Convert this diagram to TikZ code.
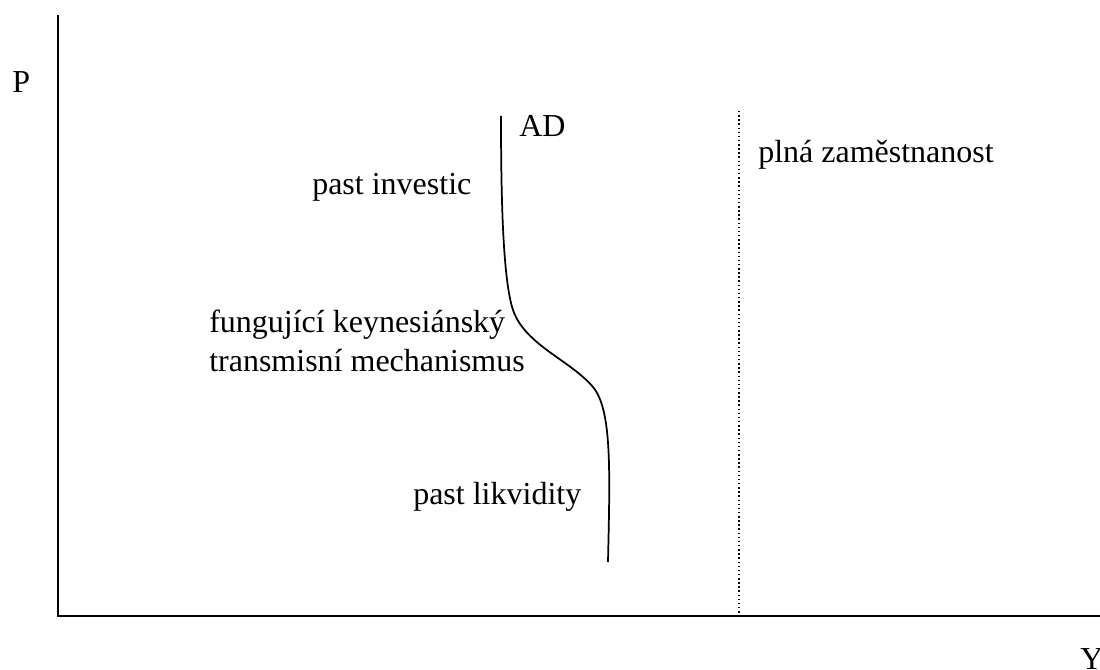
\documentclass[tikz,border=0pt]{standalone}
\usepackage{fontspec}
\setmainfont{Liberation Serif}
\begin{document}
\begin{tikzpicture}[x=0.75pt,y=-0.75pt,
  lbl/.style={anchor=base west,inner sep=0pt,font=\fontsize{24}{28}\selectfont},
  axis/.style={line width=1.3pt},
  curve/.style={line width=1.3pt},
  fe/.style={line width=1.1pt,dotted}]
\useasboundingbox (0,0) rectangle (1100,670);
\coordinate (ytop) at (58,15);
\coordinate (o) at (58,616);
\coordinate (xend) at (1100,616);
\draw[axis] (ytop) -- (o) -- (xend);
\coordinate (ftop) at (739,111);
\coordinate (fbot) at (739,616);
\draw[fe] (ftop) -- (fbot);
\coordinate (c0) at (501,116);
\coordinate (c1) at (513,310);
\coordinate (c2) at (593,387);
\coordinate (c3) at (608,562);
\draw[curve] (c0) .. controls (501,200) and (503,280) .. (c1)
  .. controls (525,345) and (570,360) .. (c2)
  .. controls (612,410) and (610,470) .. (c3);
\node[lbl] (P) at (12,93) {P};
\node[lbl] (Y) at (1080,669) {Y};
\node[lbl] (AD) at (519,137) {AD};
\node[lbl] (pi) at (312,195) {past investic};
\node[lbl] (fk) at (209,333) {fungující keynesiánský};
\node[lbl] (tm) at (209,372) {transmisní mechanismus};
\node[lbl] (pl) at (413,504) {past likvidity};
\node[lbl] (pz) at (758,163) {plná zaměstnanost};
\end{tikzpicture}
\end{document}
